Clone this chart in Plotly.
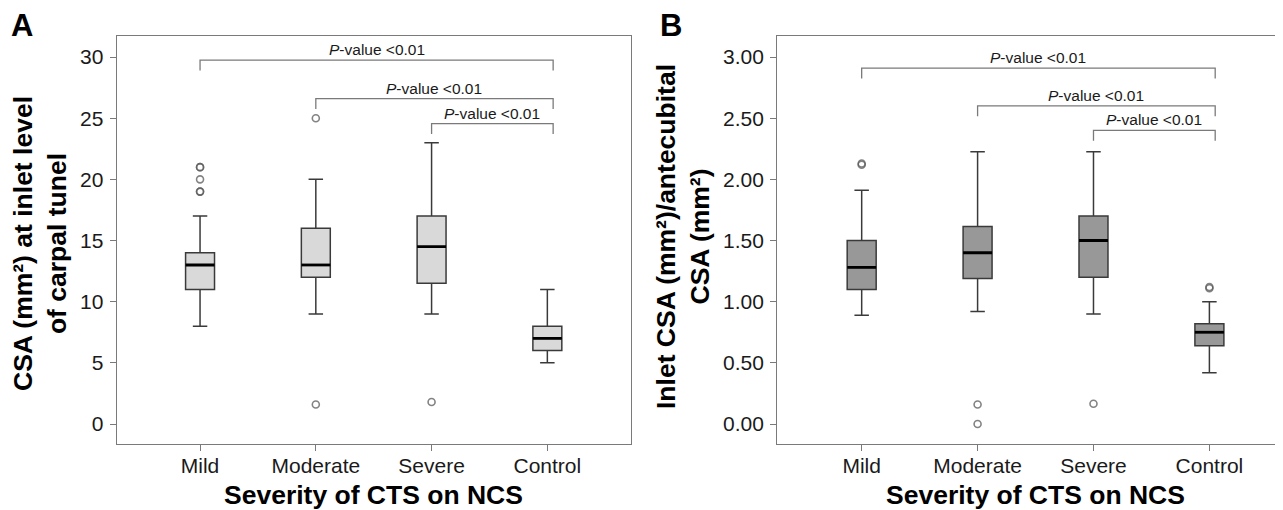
import plotly.graph_objects as go

# ---------------- data ----------------
categories = ["Mild", "Moderate", "Severe", "Control"]

# Panel A: CSA (mm2) at inlet level of carpal tunnel
a_lower = [8, 9, 9, 5]
a_q1 = [11, 12, 11.5, 6]
a_median = [13, 13, 14.5, 7]
a_q3 = [14, 16, 17, 8]
a_upper = [17, 20, 23, 11]
a_outlier_group = [0, 0, 0, 0, 0, 1, 1, 2]
a_outlier_value = [21, 21, 20, 19, 19, 25, 1.6, 1.8]
a_ticks = [0, 5, 10, 15, 20, 25, 30]

# Panel B: inlet CSA / antecubital CSA
b_lower = [0.89, 0.92, 0.90, 0.42]
b_q1 = [1.10, 1.19, 1.20, 0.64]
b_median = [1.28, 1.40, 1.50, 0.75]
b_q3 = [1.50, 1.615, 1.70, 0.82]
b_upper = [1.91, 2.225, 2.225, 1.00]
b_outlier_group = [0, 0, 1, 1, 2, 3, 3]
b_outlier_value = [2.12, 2.13, 0.16, 0.0, 0.165, 1.11, 1.12]
b_ticks = [0.0, 0.5, 1.0, 1.5, 2.0, 2.5, 3.0]

# significance brackets: (from group, to group, bracket level)
a_brackets = [(0, 3, 29.75), (1, 3, 26.6), (2, 3, 24.55)]
b_brackets = [(0, 3, 2.91), (1, 3, 2.60), (2, 3, 2.40)]
p_label = "<i>P</i>-value &lt;0.01"

# ---------------- style ----------------
FONT = "Liberation Sans, Arial, sans-serif"
BOX_W = 0.25
AXIS_COLOR = "#7a7a7a"
TEXT_COLOR = "#1a1a1a"

# page has an 8px body margin: figure is sized to fit the 1283x510 window
OFF = 8
W, H = 1283 - OFF, 510 - OFF


def px(xp):
    return (xp - OFF) / W


def py(yp):
    return (H - (yp - OFF)) / H


fig = go.Figure()


def add_panel(xref, yref, lower, q1, med, q3, upper, og, ov, brackets, fill, drop):
    xs = list(range(len(categories)))
    fig.add_trace(go.Box(
        x=xs, q1=q1, median=med, q3=q3, lowerfence=lower, upperfence=upper,
        width=BOX_W, whiskerwidth=0.5, fillcolor=fill,
        line=dict(color="#3a3a3a", width=1.5), boxpoints=False,
        xaxis=xref, yaxis=yref, showlegend=False, hoverinfo="skip"))
    # thick median lines
    mx, my = [], []
    for i, m in enumerate(med):
        mx += [i - BOX_W / 2, i + BOX_W / 2, None]
        my += [m, m, None]
    fig.add_trace(go.Scatter(x=mx, y=my, mode="lines",
                             line=dict(color="black", width=2.8),
                             xaxis=xref, yaxis=yref, showlegend=False, hoverinfo="skip"))
    # outliers
    fig.add_trace(go.Scatter(x=og, y=ov, mode="markers",
                             marker=dict(symbol="circle-open", size=7,
                                         color="rgba(90,90,90,0.75)", line=dict(width=1.6)),
                             xaxis=xref, yaxis=yref, showlegend=False, hoverinfo="skip"))
    # brackets
    for (g0, g1, lvl) in brackets:
        x1 = g1 + 0.05
        fig.add_trace(go.Scatter(x=[g0, g0, x1, x1], y=[lvl - drop, lvl, lvl, lvl - drop],
                                 mode="lines", line=dict(color="#7a7a7a", width=1.3),
                                 xaxis=xref, yaxis=yref, showlegend=False, hoverinfo="skip"))
        fig.add_annotation(x=(g0 + x1) / 2, y=lvl, xref=xref, yref=yref,
                           text=p_label, showarrow=False, yanchor="bottom", yshift=0,
                           font=dict(family=FONT, size=15.5, color=TEXT_COLOR))


add_panel("x", "y", a_lower, a_q1, a_median, a_q3, a_upper,
          a_outlier_group, a_outlier_value, a_brackets, "#d9d9d9", 0.85)
add_panel("x2", "y2", b_lower, b_q1, b_median, b_q3, b_upper,
          b_outlier_group, b_outlier_value, b_brackets, "#989898", 0.085)

y_dom = [py(444), py(36)]

axis_common = dict(showline=True, linecolor=AXIS_COLOR, linewidth=1.3,
                   ticks="outside", ticklen=6, tickwidth=1.3, tickcolor=AXIS_COLOR,
                   showgrid=False, zeroline=False,
                   tickfont=dict(family=FONT, size=21, color=TEXT_COLOR))

fig.update_layout(
    width=W, height=H, margin=dict(l=0, r=0, t=0, b=0),
    paper_bgcolor="white", plot_bgcolor="white", showlegend=False,
    xaxis=dict(domain=[px(116.7), px(630.7)], range=[-0.72, 3.72],
               tickvals=list(range(4)), ticktext=categories, mirror=True,
               ticklabelstandoff=-3, **axis_common),
    yaxis=dict(domain=y_dom, range=[-1.635, 31.72], tickvals=a_ticks,
               mirror=True, ticklabelstandoff=2, **axis_common),
    xaxis2=dict(domain=[px(777.3), 1.0], range=[-0.728, 3.635], anchor="y2",
                tickvals=list(range(4)), ticktext=categories, mirror=True,
                ticklabelstandoff=-3, **axis_common),
    yaxis2=dict(domain=y_dom, range=[-0.1635, 3.172], tickvals=b_ticks, anchor="x2",
                tickformat=".2f", mirror=False, ticklabelstandoff=2, **axis_common),
)

title_font = dict(family=FONT, size=26.5, color="black")
# axis titles
fig.add_annotation(xref="paper", yref="paper", x=px(373.7), y=py(495),
                   text="<b>Severity of CTS on NCS</b>", showarrow=False,
                   xanchor="center", yanchor="middle", font=title_font)
fig.add_annotation(xref="paper", yref="paper", x=px(1035), y=py(495),
                   text="<b>Severity of CTS on NCS</b>", showarrow=False,
                   xanchor="center", yanchor="middle", font=title_font)
fig.add_annotation(xref="paper", yref="paper", x=px(40), y=py(244),
                   text="<b>CSA (mm²) at inlet level<br>of carpal tunel</b>", showarrow=False,
                   textangle=-90, xanchor="center", yanchor="middle", font=title_font)
fig.add_annotation(xref="paper", yref="paper", x=px(683), y=py(237),
                   text="<b>Inlet CSA (mm²)/antecubital<br>CSA (mm²)</b>", showarrow=False,
                   textangle=-90, xanchor="center", yanchor="middle", font=title_font)
# panel letters
fig.add_annotation(xref="paper", yref="paper", x=px(9), y=py(25.5), text="<b>A</b>",
                   showarrow=False, xanchor="left", yanchor="middle",
                   font=dict(family=FONT, size=31, color="black"))
fig.add_annotation(xref="paper", yref="paper", x=px(658), y=py(25.5), text="<b>B</b>",
                   showarrow=False, xanchor="left", yanchor="middle",
                   font=dict(family=FONT, size=31, color="black"))

fig.write_html("out.html")
